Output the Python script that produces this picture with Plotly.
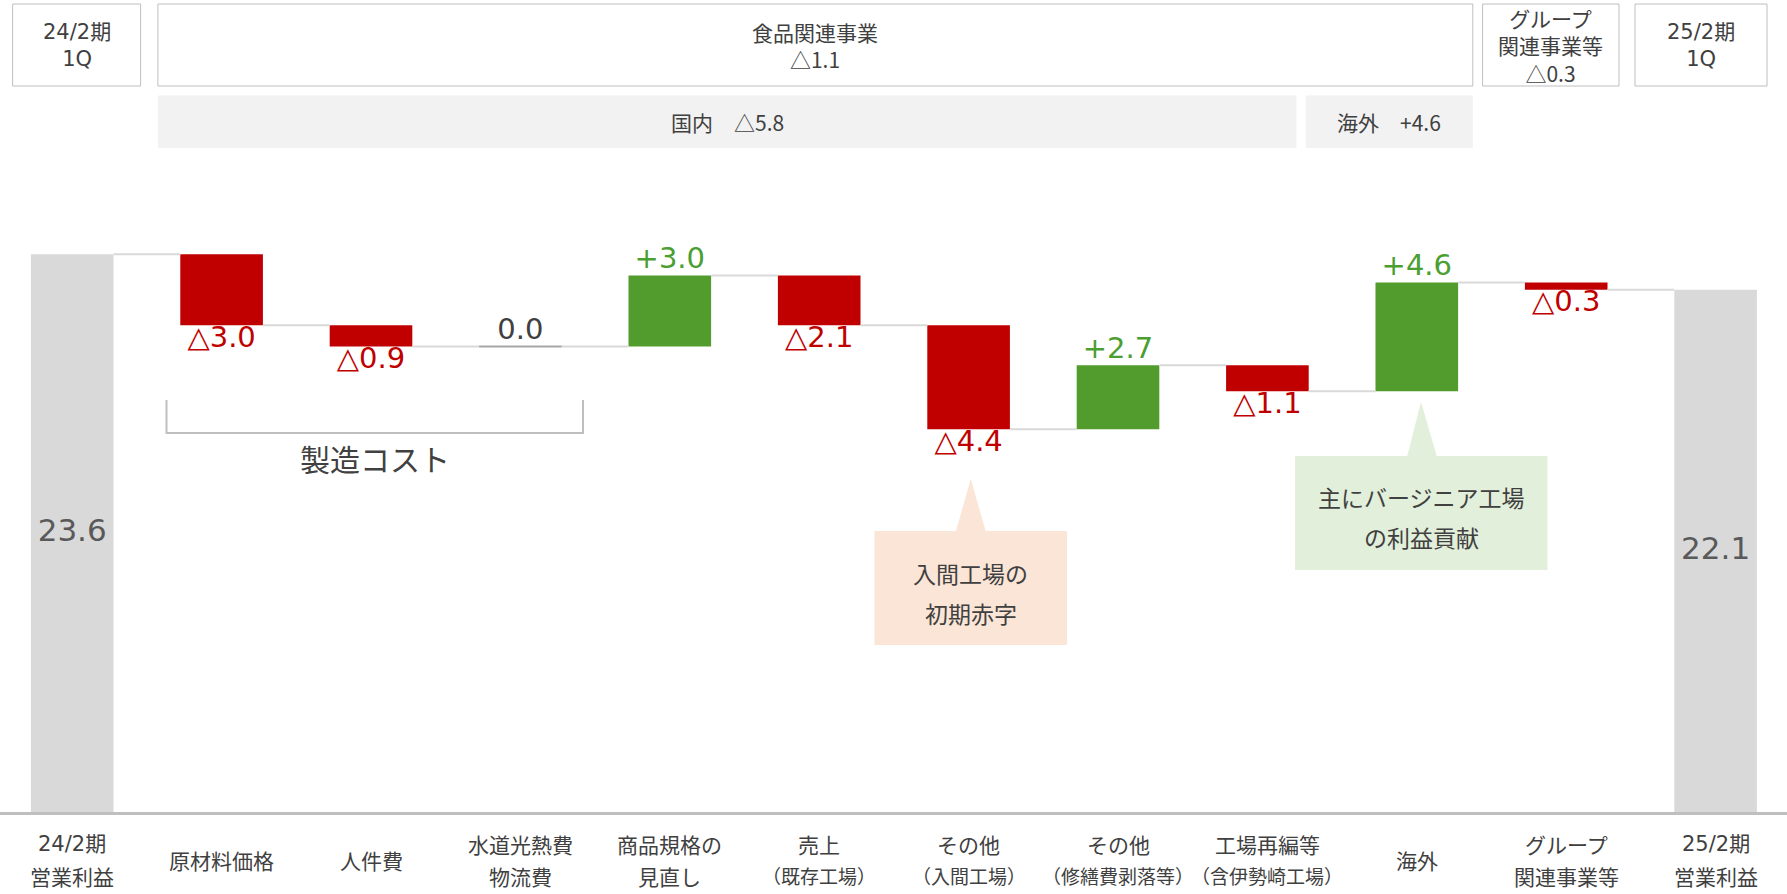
import plotly.graph_objects as go

# ---------------- data ----------------
start_value = 23.6
step_values = [-3.0, -0.9, 0.0, 3.0, -2.1, -4.4, 2.7, -1.1, 4.6, -0.3]
end_value = 22.1

cat_line1 = ["24/2期", "原材料価格", "人件費", "水道光熱費", "商品規格の", "売上",
             "その他", "その他", "工場再編等", "海外", "グループ", "25/2期"]
cat_line2 = ["営業利益", "", "", "物流費", "見直し", "（既存工場）",
             "（入間工場）", "（修繕費剥落等）", "（含伊勢崎工場）", "", "関連事業等", "営業利益"]

segment_labels = ["24/2期<br>1Q", "食品関連事業<br>△1.1", "グループ<br>関連事業等<br>△0.3", "25/2期<br>1Q"]
sub_segment_labels = ["国内\u3000△5.8", "海外\u3000+4.6"]
bracket_label = "製造コスト"
callout_peach = ["入間工場の", "初期赤字"]
callout_green = ["主にバージニア工場", "の利益貢献"]

# ---------------- styling ----------------
RED = "#c00000"
GREEN = "#529b2d"
GREEN_TXT = "#4a9e32"
GRAY_BAR = "#d9d9d9"
TXT = "#404040"
JP = "Noto Sans CJK JP"
NUM = "DejaVu Sans"
MIX = "DejaVu Sans, Noto Sans CJK JP"

W, H = 1787, 894
PLOT_BOTTOM, PLOT_TOP = 812, 103


def px(xp):
    return xp / W


def py(yp):
    return (PLOT_BOTTOM - yp) / (PLOT_BOTTOM - PLOT_TOP)


n = len(step_values)
x_steps = list(range(1, n + 1))
x_end = n + 1
bw = 0.553
hw = bw / 2

levels = [start_value]
for d in step_values:
    levels.append(round(levels[-1] + d, 1))
bases = levels[:-1]

fig = go.Figure()

# totals
fig.add_trace(go.Bar(x=[0, x_end], y=[start_value, end_value], base=[0, 0], width=bw,
                     marker=dict(color=GRAY_BAR, line=dict(width=0)), hoverinfo="skip"))
# steps
step_colors = [RED if d < 0 else GREEN for d in step_values]
fig.add_trace(go.Bar(x=x_steps, y=step_values, base=bases, width=bw,
                     marker=dict(color=step_colors, line=dict(width=0)), hoverinfo="skip"))

# connectors
cx, cy = [], []
for k in range(n + 1):
    cx += [k + hw, k + 1 - hw, None]
    cy += [levels[k], levels[k], None]
fig.add_trace(go.Scatter(x=cx, y=cy, mode="lines", line=dict(color="#d9d9d9", width=2),
                         hoverinfo="skip"))

# zero-size step marker
zx, zy = [], []
for i, d in enumerate(step_values):
    if d == 0:
        zx += [i + 1 - hw, i + 1 + hw, None]
        zy += [bases[i], bases[i], None]
fig.add_trace(go.Scatter(x=zx, y=zy, mode="lines", line=dict(color="#a6a6a6", width=2),
                         hoverinfo="skip"))

# step labels
lab_txt, lab_y, lab_pos, lab_col = [], [], [], []
for i, d in enumerate(step_values):
    end = levels[i + 1]
    if d < 0:
        lab_txt.append("△{:.1f}".format(abs(d)))
        lab_pos.append("bottom center")
        lab_col.append(RED)
    elif d > 0:
        lab_txt.append("+{:.1f}".format(d))
        lab_pos.append("top center")
        lab_col.append(GREEN_TXT)
    else:
        lab_txt.append("{:.1f}".format(d))
        lab_pos.append("top center")
        lab_col.append(TXT)
    lab_y.append(end)
fig.add_trace(go.Scatter(x=x_steps, y=lab_y, mode="text", text=lab_txt, textposition=lab_pos,
                         textfont=dict(family=NUM, size=29, color=lab_col), cliponaxis=False,
                         hoverinfo="skip"))
# total labels
fig.add_trace(go.Scatter(x=[0, x_end], y=[start_value / 2, end_value / 2], mode="text",
                         text=["{:.1f}".format(start_value), "{:.1f}".format(end_value)],
                         textposition="middle center",
                         textfont=dict(family=NUM, size=31, color="#595959"), cliponaxis=False,
                         hoverinfo="skip"))

shapes = []
annotations = []


def rect(x0, y0, x1, y1, fill, line=None):
    shapes.append(dict(type="rect", xref="paper", yref="paper",
                       x0=px(x0), x1=px(x1), y0=py(y1), y1=py(y0),
                       fillcolor=fill,
                       line=dict(color=line or fill, width=1 if line else 0),
                       layer="below"))


def text(x, y, s, size=21, color=TXT, family=JP, xref="paper"):
    annotations.append(dict(x=px(x) if xref == "paper" else x, y=py(y), xref=xref, yref="paper",
                            text=s, showarrow=False, xanchor="center", yanchor="middle",
                            font=dict(family=family, size=size, color=color)))


# top segment boxes
seg_boxes = [(12.6, 140.6), (157.9, 1472.8), (1482.6, 1619), (1635, 1767)]
for (x0, x1), s in zip(seg_boxes, segment_labels):
    rect(x0, 4, x1, 86, "white", "#bfbfbf")
    fam = MIX if "期" in s else JP
    text((x0 + x1) / 2, 46, s, size=21, family=fam)

# sub segment bands
sub_boxes = [(157.9, 1296.4), (1305.7, 1472.8)]
for (x0, x1), s in zip(sub_boxes, sub_segment_labels):
    rect(x0, 95.5, x1, 148, "#f2f2f2")
    text((x0 + x1) / 2, 122, s, size=21)

# bracket
shapes.append(dict(type="path", xref="paper", yref="paper",
                   path="M {a},{b} L {a},{c} L {d},{c} L {d},{b}".format(
                       a=px(166.5), b=py(400), c=py(433), d=px(583)),
                   line=dict(color="#bfbfbf", width=2)))
text(374.5, 458, bracket_label, size=30)


# callouts
def callout(x0, y0, x1, y1, apex, base_l, base_r, fill, lines, ly):
    rect(x0, y0, x1, y1, fill)
    shapes.append(dict(type="path", xref="paper", yref="paper",
                       path="M {},{} L {},{} L {},{} Z".format(
                           px(apex[0]), py(apex[1]), px(base_l), py(y0 + 1), px(base_r), py(y0 + 1)),
                       fillcolor=fill, line=dict(width=0), layer="below"))
    for s, yy in zip(lines, ly):
        text((x0 + x1) / 2, yy, s, size=23)


callout(874.5, 531, 1067, 645, (970.8, 479), 955.7, 985.9, "#fbe5d6", callout_peach, [572.7, 613])
callout(1295, 456, 1547.5, 570, (1421, 402), 1407, 1437, "#e2efda", callout_green, [496.7, 536.7])

# category labels
for i, (a, b) in enumerate(zip(cat_line1, cat_line2)):
    fam = MIX if "期" in a else JP
    if b:
        text(i, 844, a, size=21, xref="x", family=fam)
        text(i, 875.5, b, size=19 if b.startswith("（") else 21, xref="x")
    else:
        text(i, 859.5, a, size=21, xref="x")

fig.update_layout(
    width=W, height=H,
    margin=dict(l=0, r=0, t=PLOT_TOP, b=H - PLOT_BOTTOM, pad=0),
    paper_bgcolor="white", plot_bgcolor="white",
    showlegend=False, barmode="overlay",
    xaxis=dict(range=[-72.2 / 149.4, (W - 72.2) / 149.4], showticklabels=False, showgrid=False,
               zeroline=False, showline=True, linecolor="#bfbfbf", linewidth=3, ticks="",
               fixedrange=True),
    yaxis=dict(range=[0, 30], visible=False, fixedrange=True),
    shapes=shapes, annotations=annotations,
)

fig.write_html("out.html", config={"displayModeBar": False},
               post_script="document.body.style.margin='0';")
